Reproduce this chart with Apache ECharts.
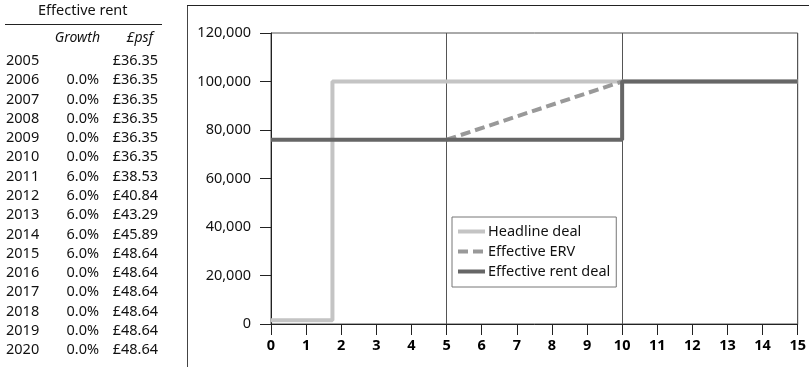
<!DOCTYPE html>
<html>
<head>
<meta charset="utf-8">
<script src="https://cdn.jsdelivr.net/npm/echarts@6/dist/echarts.min.js"></script>
<style>
  html, body { margin: 0; padding: 0; background: #fff; }
  #chart { width: 809px; height: 367px; }
</style>
</head>
<body>
<div id="chart"></div>
<script>
// table data
var years = [2005, 2006, 2007, 2008, 2009, 2010, 2011, 2012, 2013, 2014, 2015, 2016, 2017, 2018, 2019, 2020];
var growth = ['', '0.0%', '0.0%', '0.0%', '0.0%', '0.0%', '6.0%', '6.0%', '6.0%', '6.0%', '6.0%', '0.0%', '0.0%', '0.0%', '0.0%', '0.0%'];
var psf = ['£36.35', '£36.35', '£36.35', '£36.35', '£36.35', '£36.35', '£38.53', '£40.84', '£43.29', '£45.89', '£48.64', '£48.64', '£48.64', '£48.64', '£48.64', '£48.64'];

// line data (x = year, y = rent)
var headlineX = [0, 1.75, 1.75, 15];
var headlineY = [1500, 1500, 100000, 100000];
var ervX = [5, 10];
var ervY = [76000, 100000];
var effX = [0, 10, 10, 15];
var effY = [76000, 76000, 100000, 100000];

var seriesNames = ['Headline deal', 'Effective ERV', 'Effective rent deal'];

var font = '"Noto Sans", sans-serif';

function pairs(xs, ys) {
  var out = [];
  for (var i = 0; i < xs.length; i++) out.push([xs[i], ys[i]]);
  return out;
}

// left table as graphic texts
var graphics = [
  { type: 'text', left: 38, top: 3, style: { text: 'Effective rent', font: '14.5px ' + font, fill: '#111' } },
  { type: 'line', shape: { x1: 5, y1: 24.5, x2: 162, y2: 24.5 }, style: { stroke: '#222', lineWidth: 1 } },
  { type: 'text', x: 100, y: 38, style: { text: 'Growth', font: 'italic 14px ' + font, fill: '#111', align: 'right', verticalAlign: 'middle' } },
  { type: 'text', x: 153, y: 38, style: { text: '£psf', font: 'italic 14px ' + font, fill: '#111', align: 'right', verticalAlign: 'middle' } },
  // outer frame
  { type: 'line', shape: { x1: 187.5, y1: 5, x2: 187.5, y2: 367 }, style: { stroke: '#444', lineWidth: 1 } },
  { type: 'line', shape: { x1: 187, y1: 5.5, x2: 809, y2: 5.5 }, style: { stroke: '#222', lineWidth: 1 } }
];
for (var i = 0; i < years.length; i++) {
  var y = 61 + i * 19.27;
  graphics.push({ type: 'text', x: 6, y: y, style: { text: String(years[i]), font: '14.5px ' + font, fill: '#111', verticalAlign: 'middle' } });
  graphics.push({ type: 'text', x: 99, y: y, style: { text: growth[i], font: '14.5px ' + font, fill: '#111', align: 'right', verticalAlign: 'middle' } });
  graphics.push({ type: 'text', x: 158, y: y, style: { text: psf[i], font: '14.5px ' + font, fill: '#111', align: 'right', verticalAlign: 'middle' } });
}

var chart = echarts.init(document.getElementById('chart'));
var option = {
  animation: false,
  textStyle: { fontFamily: font },
  graphic: graphics,
  grid: {
    left: 271, right: 10, top: 33, bottom: 43,
    show: true, borderColor: '#555', borderWidth: 1
  },
  legend: {
    orient: 'vertical',
    left: 452, top: 217,
    data: seriesNames,
    borderColor: '#777', borderWidth: 1, borderRadius: 0,
    padding: [7, 6, 8, 4],
    itemWidth: 27, itemHeight: 14, itemGap: 5,
    itemStyle: { opacity: 0 },
    lineStyle: { width: 4 },
    textStyle: { fontSize: 14.5, color: '#111', fontFamily: font, padding: [0, 0, 0, -2] }
  },
  xAxis: [{
    type: 'value', min: 0, max: 15, interval: 1,
    axisLine: { show: true, lineStyle: { color: '#222', width: 1 } },
    axisTick: { show: true, length: 11, lineStyle: { color: '#222' } },
    axisLabel: { color: '#000', fontSize: 14.5, fontWeight: 'bold', margin: 14, fontFamily: font },
    splitLine: { show: false }
  }, {
    type: 'value', min: 0, max: 15, interval: 5, position: 'bottom',
    axisLine: { show: false }, axisTick: { show: false }, axisLabel: { show: false },
    splitLine: { show: true, lineStyle: { color: '#555', width: 1 } }
  }],
  yAxis: {
    type: 'value', min: 0, max: 120000, interval: 20000,
    axisLine: { show: true, lineStyle: { color: '#222', width: 1 } },
    axisTick: { show: true, length: 11, lineStyle: { color: '#222' } },
    axisLabel: {
      color: '#111', fontSize: 14.5, margin: 20, fontFamily: font,
      formatter: function (v) { return v.toLocaleString('en-GB'); }
    },
    splitLine: { show: false }
  },
  series: [{
    name: seriesNames[0], type: 'line', symbol: 'none', xAxisIndex: 0,
    data: pairs(headlineX, headlineY),
    lineStyle: { color: '#c4c4c4', width: 4 },
    itemStyle: { color: '#c4c4c4' }
  }, {
    name: seriesNames[1], type: 'line', symbol: 'none', xAxisIndex: 0,
    data: pairs(ervX, ervY),
    lineStyle: { color: '#999', width: 4, type: [10, 5] },
    itemStyle: { color: '#999' }
  }, {
    name: seriesNames[2], type: 'line', symbol: 'none', xAxisIndex: 0,
    data: pairs(effX, effY),
    lineStyle: { color: '#666', width: 4 },
    itemStyle: { color: '#666' }
  }]
};
chart.setOption(option);
</script>
</body>
</html>
